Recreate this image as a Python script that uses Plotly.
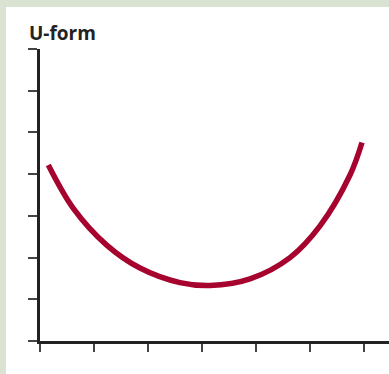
import plotly.graph_objects as go

# U-shaped curve, sampled along its length
curve_x = [0.154, 0.617, 1.235, 1.852, 2.593, 3.150, 3.889, 4.630, 5.185, 5.741, 5.963]
curve_y = [4.22, 3.18, 2.30, 1.75, 1.40, 1.33, 1.49, 2.00, 2.76, 3.98, 4.76]

x_ticks = [0, 1, 2, 3, 4, 5, 6]
y_ticks = [0, 1, 2, 3, 4, 5, 6, 7]
title_text = "U-form"

W, H = 389, 374
L, R, T, B = 40, 0, 49, 33
plot_w = W - L - R
plot_h = H - T - B
x_unit = 54.0

fig = go.Figure()
fig.add_trace(go.Scatter(
    x=curve_x, y=curve_y, mode="lines",
    line=dict(color="#a6032f", width=5.5, shape="spline", smoothing=1.0),
    hoverinfo="skip", showlegend=False,
))

# white panel over the tinted page
fig.add_shape(
    type="rect", xref="paper", yref="paper", layer="below",
    x0=(6 - L) / plot_w, x1=1 + 20 / plot_w,
    y0=-(B + 20) / plot_h, y1=1 + (T - 7) / plot_h,
    fillcolor="white", line=dict(width=0),
)

fig.update_layout(
    width=W, height=H,
    margin=dict(l=L, r=R, t=T, b=B),
    paper_bgcolor="#dae2d1",
    plot_bgcolor="rgba(0,0,0,0)",
    title=dict(
        text="<b>" + title_text + "</b>",
        x=29 / W, xanchor="left", xref="container",
        y=1 - 33 / H, yanchor="middle", yref="container",
        font=dict(family="Open Sans", size=19, color="#222222"),
    ),
    xaxis=dict(
        range=[0, plot_w / x_unit], tickvals=x_ticks, showticklabels=False,
        ticks="outside", ticklen=8, tickwidth=1.5, tickcolor="#444444",
        showline=True, linecolor="#222222", linewidth=2.5,
        showgrid=False, zeroline=False, fixedrange=True,
    ),
    yaxis=dict(
        range=[0, 7], tickvals=y_ticks, showticklabels=False,
        ticks="outside", ticklen=9, tickwidth=1.5, tickcolor="#444444",
        showline=True, linecolor="#222222", linewidth=2.5,
        showgrid=False, zeroline=False, fixedrange=True,
    ),
)

fig.write_html("out.html", config={"displayModeBar": False})
